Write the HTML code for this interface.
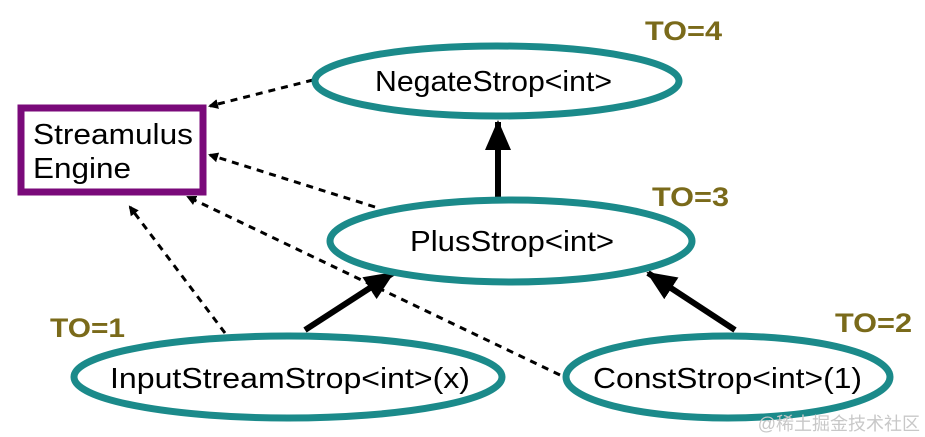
<!DOCTYPE html>
<html><head><meta charset="utf-8"><style>
html,body{margin:0;padding:0;background:#fff;}
svg{display:block;}
text{font-family:"Liberation Sans",Arial,sans-serif;}
</style></head><body>
<svg width="925" height="437" viewBox="0 0 925 437" xmlns="http://www.w3.org/2000/svg">
<defs>
<marker id="ah" markerWidth="10" markerHeight="10" refX="8" refY="5" orient="auto" markerUnits="userSpaceOnUse"><path d="M0,0 L10,5 L0,10 z" fill="#000"/></marker>
<marker id="big" markerWidth="30" markerHeight="26" refX="28" refY="13" orient="auto" markerUnits="userSpaceOnUse"><path d="M0,0 L30,13 L0,26 z" fill="#000"/></marker>
</defs>
<rect width="925" height="437" fill="#fff"/>
<g stroke="#000" stroke-width="3" stroke-dasharray="7,6" fill="none">
<line x1="313" y1="80" x2="210" y2="106" marker-end="url(#ah)"/>
<line x1="375" y1="207" x2="210" y2="155" marker-end="url(#ah)"/>
<line x1="560" y1="375" x2="188" y2="197" marker-end="url(#ah)"/>
<line x1="225" y1="333" x2="130" y2="207" marker-end="url(#ah)"/>
</g>
<g stroke="#000" stroke-width="6" fill="none">
<line x1="498" y1="200" x2="498" y2="122" marker-end="url(#big)"/>
<line x1="305" y1="330" x2="393" y2="273" marker-end="url(#big)"/>
<line x1="735" y1="330" x2="648" y2="273" marker-end="url(#big)"/>
</g>
<g fill="#fff" stroke="#1b8a8a" stroke-width="7">
<ellipse cx="497" cy="81" rx="182" ry="35"/>
<ellipse cx="511" cy="241" rx="181" ry="41"/>
<ellipse cx="288" cy="377" rx="214" ry="41"/>
<ellipse cx="728" cy="377" rx="162" ry="41"/>
</g>
<rect x="21" y="108" width="182" height="84" fill="#fff" stroke="#7a0a7a" stroke-width="7"/>
<g font-size="29" fill="#000">
<text x="375" y="91" textLength="237" lengthAdjust="spacingAndGlyphs">NegateStrop&lt;int&gt;</text>
<text x="410" y="251" textLength="204" lengthAdjust="spacingAndGlyphs">PlusStrop&lt;int&gt;</text>
<text x="110" y="388" textLength="360" lengthAdjust="spacingAndGlyphs">InputStreamStrop&lt;int&gt;(x)</text>
<text x="593" y="388" textLength="269" lengthAdjust="spacingAndGlyphs">ConstStrop&lt;int&gt;(1)</text>
<text x="33" y="144" textLength="160" lengthAdjust="spacingAndGlyphs">Streamulus</text>
<text x="33" y="178" textLength="98" lengthAdjust="spacingAndGlyphs">Engine</text>
</g>
<g font-size="27" font-weight="bold" fill="#7a6a1a">
<text x="645" y="40" textLength="77" lengthAdjust="spacingAndGlyphs">TO=4</text>
<text x="652" y="206" textLength="77" lengthAdjust="spacingAndGlyphs">TO=3</text>
<text x="50" y="337" textLength="75" lengthAdjust="spacingAndGlyphs">TO=1</text>
<text x="835" y="332" textLength="77" lengthAdjust="spacingAndGlyphs">TO=2</text>
</g>
<text x="920" y="430" text-anchor="end" font-size="18" fill="#c8c8c8" style="font-family:'Liberation Sans','Noto Sans CJK SC',sans-serif">@稀土掘金技术社区</text>
</svg>
</body></html>
